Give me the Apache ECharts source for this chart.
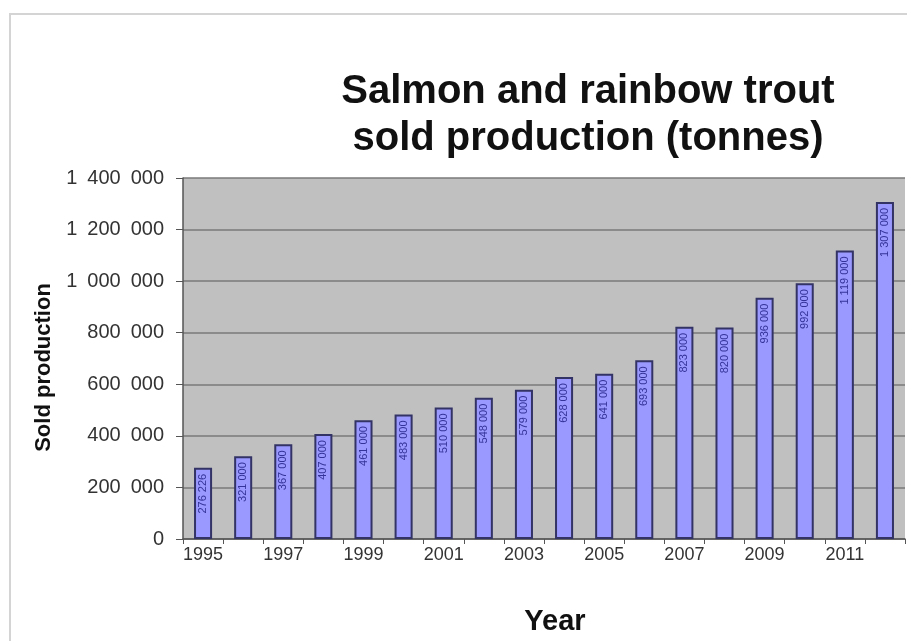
<!DOCTYPE html>
<html>
<head>
<meta charset="utf-8">
<script src="https://cdn.jsdelivr.net/npm/echarts@6/dist/echarts.min.js"></script>
<style>
  html, body { margin: 0; padding: 0; background: #fff; }
  #chart { width: 907px; height: 641px; }
</style>
</head>
<body>
<div id="chart"></div>
<script>
// years on the x axis
const years = ["1995", "1996", "1997", "1998", "1999", "2000", "2001", "2002", "2003",
  "2004", "2005", "2006", "2007", "2008", "2009", "2010", "2011", "2012"];
// sold production, tonnes
const sold = [276226, 321000, 367000, 407000, 461000, 483000, 510000, 548000, 579000,
  628000, 641000, 693000, 823000, 820000, 936000, 992000, 1119000, 1307000];
const yTicks = [0, 200000, 400000, 600000, 800000, 1000000, 1200000, 1400000];

// thousands grouped with a space
function spaced(v, sep) {
  return String(Math.round(v)).replace(/\B(?=(\d{3})+(?!\d))/g, sep || " ");
}

const chart = echarts.init(document.getElementById("chart"));
const option = {
  backgroundColor: "#fff",
  animation: false,
  textStyle: { fontFamily: "Liberation Sans, Arial, sans-serif" },
  graphic: [
    {
      type: "rect",
      z: -10,
      shape: { x: 10, y: 14, width: 1000, height: 700 },
      style: { fill: "#fff", stroke: "#d4d4d4", lineWidth: 2 }
    }
  ],
  title: {
    text: "Salmon and rainbow trout\nsold production (tonnes)",
    left: 583,
    top: 63,
    textAlign: "center",
    textStyle: {
      fontSize: 40,
      fontWeight: "bold",
      color: "#111",
      lineHeight: 47,
      fontFamily: "Liberation Sans, Arial, sans-serif"
    }
  },
  grid: { left: 183, top: 178, width: 722, height: 361, containLabel: false },
  xAxis: {
    type: "category",
    data: years,
    name: "Year",
    nameLocation: "middle",
    nameGap: 68,
    nameTextStyle: { fontSize: 29, fontWeight: "bold", color: "#111", padding: [0, 0, 0, 22] },
    axisLine: { lineStyle: { color: "#555", width: 1.5 } },
    axisTick: { show: true, interval: 0, length: 5, lineStyle: { color: "#555" } },
    axisLabel: { interval: 1, fontSize: 18, color: "#333", margin: 7 }
  },
  yAxis: {
    type: "value",
    min: yTicks[0],
    max: yTicks[yTicks.length - 1],
    interval: yTicks[1] - yTicks[0],
    name: "Sold production",
    nameLocation: "middle",
    nameGap: 122,
    nameTextStyle: { fontSize: 22, fontWeight: "bold", color: "#111", padding: [0, 18, 0, 0] },
    axisLine: { show: true, lineStyle: { color: "#555", width: 1.5 } },
    axisTick: { show: true, length: 7, lineStyle: { color: "#555" } },
    axisLabel: { fontSize: 20, color: "#333", margin: 19, formatter: (v) => spaced(v, "\u2002") },
    splitLine: { lineStyle: { color: "#7a7a7a", width: 1.5 } },
    splitArea: { show: true, areaStyle: { color: ["#c0c0c0", "#c0c0c0"] } }
  },
  series: [
    {
      type: "bar",
      data: sold,
      barWidth: "45%",
      itemStyle: { color: "#9999ff", borderColor: "#333366", borderWidth: 2 },
      label: {
        show: true,
        position: "insideTop",
        rotate: 90,
        align: "right",
        verticalAlign: "middle",
        distance: 6,
        fontSize: 11,
        color: "#333399",
        formatter: (p) => spaced(p.value)
      }
    }
  ]
};
chart.setOption(option);
</script>
</body>
</html>
